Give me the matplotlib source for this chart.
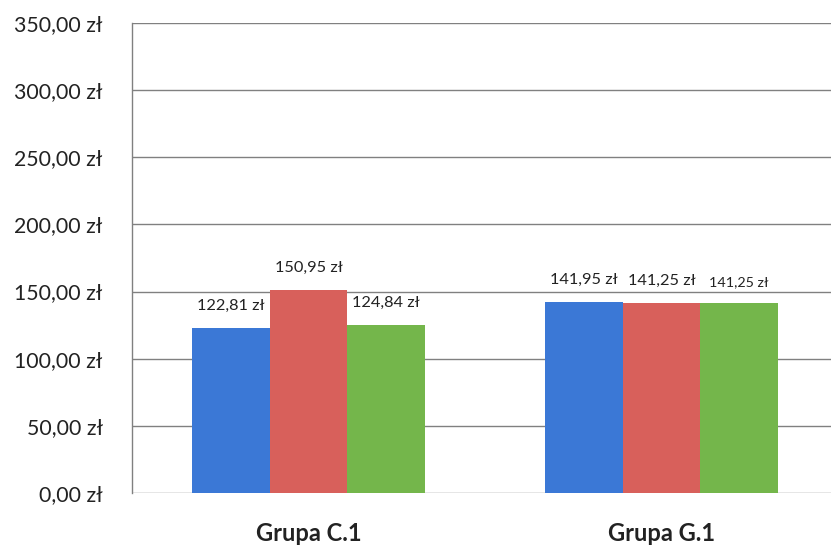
import matplotlib
matplotlib.use("Agg")
import matplotlib.pyplot as plt
import numpy as np

categories = ["Grupa C.1", "Grupa G.1"]
series_blue = [122.81, 141.95]
series_red = [150.95, 141.25]
series_green = [124.84, 141.25]
yticks = [0, 50, 100, 150, 200, 250, 300, 350]

plt.rcParams['font.family'] = ['Lato', 'DejaVu Sans']

fig = plt.figure(figsize=(8.31, 5.5), dpi=100)
W, H = 831, 550
left, right, top, bottom = 132, 838, 23, 493
ax = fig.add_axes([left / W, 1 - bottom / H, (right - left) / W, (bottom - top) / H])

colors = ["#3b78d6", "#d8605b", "#74b64b"]
series = [series_blue, series_red, series_green]
bw = 0.22
x = np.arange(len(categories))
label_sizes = [[11.8, 11.8], [11.8, 11.8], [11.8, 10.3]]
for i, (vals, c) in enumerate(zip(series, colors)):
    xs = x + (i - 1) * bw
    ax.bar(xs, vals, width=bw, color=c, zorder=3)
    for j, (xx, v) in enumerate(zip(xs, vals)):
        lab = f"{v:,.2f} zł".replace(",", " ").replace(".", ",")
        ax.annotate(lab, (xx, v), xytext=(0, 11), textcoords="offset points",
                    ha="center", va="bottom", fontsize=label_sizes[i][j], color="#222222")

ax.set_xlim(-0.5, 1.5)
ax.set_ylim(0, 350)
ax.set_yticks(yticks)
ax.set_yticklabels([f"{t:.2f} zł".replace(".", ",") for t in yticks], fontsize=15.3, color="#222222")
ax.set_xticks(x)
ax.set_xticklabels(categories, fontsize=17, fontweight="bold", color="#222222")
ax.tick_params(axis="both", length=0)
ax.tick_params(axis="y", pad=21)
ax.tick_params(axis="x", pad=21)
ax.yaxis.grid(True, color="#808080", linewidth=1.0, zorder=0)
for s in ["top", "right", "bottom"]:
    ax.spines[s].set_visible(False)
ax.spines["left"].set_color("#808080")
ax.spines["left"].set_linewidth(1.0)

fig.savefig("out.png", dpi=100)
